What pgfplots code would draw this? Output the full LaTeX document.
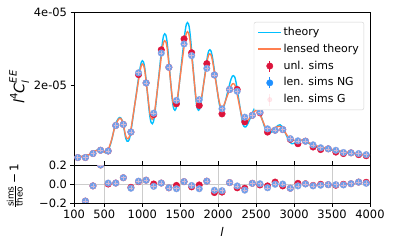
\documentclass[border=0pt]{standalone}
\usepackage{fontspec}
\setmainfont{DejaVu Sans}
\usepackage{pgfplots}
\usepackage{pgfplotstable}
\pgfplotsset{compat=1.18}
\definecolor{cTheory}{HTML}{00BFFF}
\definecolor{cLens}{HTML}{FF7F50}
\definecolor{cUnl}{HTML}{DC143C}
\definecolor{cNG}{HTML}{1E90FF}
\definecolor{cG}{HTML}{FFC0CB}

\pgfplotstableread{
l v
100 0.03
200 0.05
300 0.10
380 0.20
450 0.25
530 0.15
590 0.45
640 0.90
670 1.04
700 1.12
730 1.06
760 0.80
785 0.53
815 0.47
845 0.68
908 1.58
970 2.47
1000 2.68
1030 2.51
1066 1.82
1102 1.12
1132 0.95
1162 1.19
1214 2.19
1265 3.18
1295 3.42
1325 3.22
1362 2.37
1400 1.52
1430 1.32
1460 1.55
1512 2.52
1565 3.50
1595 3.73
1625 3.50
1668 2.52
1710 1.55
1740 1.32
1770 1.48
1815 2.15
1860 2.82
1890 2.98
1920 2.82
1968 2.15
2015 1.49
2045 1.33
2075 1.42
2122 1.80
2170 2.18
2200 2.27
2230 2.14
2275 1.56
2320 0.99
2350 0.86
2380 0.91
2428 1.13
2475 1.36
2505 1.41
2535 1.34
2582 1.05
2630 0.75
2660 0.68
2690 0.70
2738 0.80
2785 0.90
2815 0.92
2845 0.87
2892 0.66
2940 0.45
2970 0.40
3000 0.41
3050 0.46
3120 0.50
3200 0.40
3280 0.32
3400 0.27
3550 0.20
3700 0.15
3850 0.11
4000 0.08
}\theory

\pgfplotstableread{
l v
100 0.03
200 0.05
300 0.10
380 0.20
450 0.24
530 0.17
590 0.47
640 0.88
670 1.01
700 1.10
730 1.05
760 0.82
785 0.59
815 0.54
845 0.74
908 1.57
970 2.39
1000 2.59
1030 2.44
1066 1.83
1102 1.22
1132 1.07
1162 1.28
1214 2.15
1265 3.02
1295 3.23
1325 3.06
1362 2.33
1400 1.59
1430 1.42
1460 1.62
1512 2.45
1565 3.28
1595 3.48
1625 3.28
1668 2.45
1710 1.62
1740 1.42
1770 1.56
1815 2.13
1860 2.73
1890 2.87
1920 2.73
1968 2.12
2015 1.54
2045 1.40
2075 1.46
2122 1.73
2170 1.99
2200 2.05
2230 1.95
2275 1.50
2320 1.07
2350 0.97
2380 1.00
2428 1.15
2475 1.29
2505 1.32
2535 1.27
2582 1.05
2630 0.82
2660 0.77
2690 0.78
2738 0.83
2785 0.87
2815 0.88
2845 0.84
2892 0.68
2940 0.53
2970 0.49
3000 0.49
3050 0.49
3120 0.50
3200 0.42
3280 0.35
3400 0.29
3550 0.22
3700 0.17
3850 0.12
4000 0.09
}\lensed

\pgfplotstableread{
l unl ng
150 0.02 0.02
250 0.02 0.02
350 0.13 0.13
450 0.22 0.22
550 0.20 0.20
650 0.90 0.90
750 0.93 0.93
850 0.72 0.72
950 2.30 2.35
1050 2.07 2.07
1150 1.20 1.24
1250 2.98 2.89
1350 2.50 2.50
1450 1.50 1.59
1550 3.28 3.14
1650 2.90 2.82
1750 1.45 1.61
1850 2.60 2.47
1950 2.29 2.29
2050 1.22 1.36
2150 1.89 1.89
2250 1.89 1.84
2350 1.00 1.13
2450 1.18 1.18
2550 1.25 1.27
2650 0.72 0.81
2750 0.77 0.77
2850 0.79 0.79
2950 0.52 0.54
3050 0.40 0.48
3150 0.47 0.47
3250 0.31 0.37
3350 0.24 0.29
3450 0.26 0.26
3550 0.17 0.22
3650 0.13 0.16
3750 0.15 0.15
3850 0.10 0.13
3950 0.07 0.10
}\sims

\pgfplotstableread{
l unl ng
250 -0.18 -0.18
350 -0.02 -0.02
450 0.20 0.20
550 0.00 0.01
650 0.01 0.01
750 0.066 0.066
850 -0.035 -0.045
950 0.025 0.03
1050 0.04 0.04
1150 0.00 -0.025
1250 0.01 0.01
1350 -0.04 -0.04
1450 -0.015 -0.05
1550 0.025 0.025
1650 -0.03 -0.015
1750 -0.01 -0.05
1850 0.03 0.03
1950 -0.09 -0.066
2050 -0.085 -0.07
2150 0.015 0.015
2250 -0.04 -0.02
2350 -0.045 -0.065
2450 0.007 0.007
2550 -0.01 0.003
2650 -0.02 -0.04
2750 0.02 -0.003
2850 -0.02 0.0
2950 -0.045 -0.045
3050 0.007 -0.02
3150 0.003 0.0
3250 -0.015 -0.02
3350 -0.003 -0.013
3450 -0.007 -0.007
3550 -0.013 -0.007
3650 -0.003 -0.01
3750 0.003 0.003
3850 0.02 0.02
3950 0.018 0.007
}\ratio

\pgfplotsset{
  every axis/.append style={
    scale only axis, width=296bp,
    xmin=100, xmax=4000,
    axis line style={line width=0.8bp},
    every tick/.style={black, line width=0.8bp},
    major tick length=3.5bp,
    tick label style={font=\fontsize{11.5}{12}\selectfont},
    label style={font=\fontsize{12}{13}\selectfont},
    clip marker paths=true,
  },
  redmk/.style={only marks, mark=*, mark size=3.3bp, color=cUnl,
    legend image code/.code={\draw[cUnl, line width=1.2bp] (11.5bp,-5.5bp) -- (11.5bp,5.5bp); \fill[cUnl] (11.5bp,0bp) circle (3.2bp);}},
  bluemk/.style={only marks, mark=*, mark size=3.2bp, color=cNG,
    legend image code/.code={\draw[cNG, line width=1.2bp] (11.5bp,-5.5bp) -- (11.5bp,5.5bp); \fill[cNG] (11.5bp,0bp) circle (3.2bp);}},
  pinkmk/.style={only marks, mark=*, mark size=3.5bp, color=cG, opacity=0.35,
    legend image code/.code={\draw[cG, line width=1.2bp] (11.5bp,-6bp) -- (11.5bp,6bp); \fill[cG] (11.5bp,0bp) circle (2.2bp);}},
  plusmk/.style={only marks, mark=+, mark size=2.2bp, color=cG, opacity=0.7, line width=0.6bp, forget plot},
}

\begin{document}
\begin{tikzpicture}
\path[use as bounding box] (0,0) rectangle (394bp,247bp);

\begin{axis}[
  at={(74bp,82bp)}, anchor=south west, height=153bp,
  ymin=-0.185, ymax=4.02,
  ytick={2,4}, yticklabels={2e-05,4e-05},
  ytick pos=left,
  xtick={500,1000,1500,2000,2500,3000,3500,4000}, xticklabels={},
  xtick pos=bottom, xtick align=inside, ytick align=outside,
  ylabel={\fontsize{14.5}{15}\selectfont\textit{l}\raisebox{0.9ex}{\fontsize{10}{10}\selectfont 4}\textit{C}\rlap{\raisebox{-0.6ex}{\fontsize{10}{10}\selectfont\itshape l}}\raisebox{1.0ex}{\fontsize{10}{10}\selectfont\itshape EE}},
  ylabel style={at={(axis description cs:-0.185,0.51)}, anchor=center},
  legend style={at={(0.98,0.935)}, anchor=north east, draw=gray!35, rounded corners=2bp,
    fill=white,
    font=\fontsize{11}{13}\selectfont, row sep=3.2bp, inner xsep=3.5bp, inner ysep=3.5bp,
    cells={anchor=west}, nodes={inner sep=1.5bp, text height=8.3bp, text depth=2.3bp}},
]
\addplot[cTheory, line width=1.4bp, smooth, tension=0.6,
  legend image code/.code={\draw[cTheory, line width=1.6bp, draw opacity=1] (0bp,0bp) -- (23bp,0bp);}] table[x=l,y=v]{\theory};
\addlegendentry{theory}
\addplot[cLens, line width=1.4bp, smooth, tension=0.6,
  legend image code/.code={\draw[cLens, line width=1.6bp, draw opacity=1] (0bp,0bp) -- (23bp,0bp);}] table[x=l,y=v]{\lensed};
\addlegendentry{lensed theory}
\addplot[redmk] table[x=l,y=unl]{\sims};
\addlegendentry{unl. sims}
\addplot[bluemk] table[x=l,y=ng]{\sims};
\addlegendentry{len. sims NG}
\addplot[pinkmk] table[x=l,y=ng]{\sims};
\addlegendentry{len. sims G}
\addplot[plusmk] table[x=l,y=ng]{\sims};
\end{axis}

\begin{axis}[
  at={(74bp,44bp)}, anchor=south west, height=38bp,
  ymin=-0.2, ymax=0.2,
  ytick={-0.2,0,0.2}, yticklabels={−0.2,0.0,0.2},
  xtick={100,500,1000,1500,2000,2500,3000,3500,4000},
  xticklabels={100,500,1000,1500,2000,2500,3000,3500,4000},
  xtick pos=bottom, ytick pos=left, tick align=outside,
  grid=major, grid style={gray!40, line width=0.9bp},
  xlabel={\textit{l}},
  xlabel style={at={(axis description cs:0.5,-0.76)}, anchor=center},
  ylabel={$\frac{\mbox{\fontsize{9}{9}\selectfont sims}}{\mbox{\fontsize{9}{9}\selectfont theo}}$\,−\,1},
  ylabel style={at={(axis description cs:-0.2,0.45)}, anchor=center},
]
\addplot[redmk] table[x=l,y=unl]{\ratio};
\addplot[bluemk] table[x=l,y=ng]{\ratio};
\addplot[pinkmk] table[x=l,y=ng]{\ratio};
\addplot[plusmk] table[x=l,y=ng]{\ratio};
\end{axis}
\end{tikzpicture}
\end{document}
